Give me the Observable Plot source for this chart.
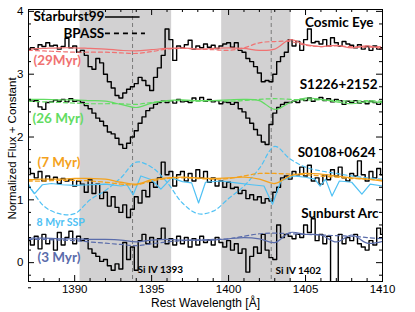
<!DOCTYPE html>
<html><head><meta charset="utf-8">
<script src="https://cdn.jsdelivr.net/npm/d3@7"></script>
<script src="https://cdn.jsdelivr.net/npm/@observablehq/plot@0.6"></script>
<style>body{margin:0;background:#fff} svg{display:block}</style>
</head><body><div id="chart"></div>
<script>
// ---- data ----
// observed spectra, sampled every 0.25 Å from 1387 to 1410 Å
const cosmicEye = [
 3.38,3.42,3.40,3.47, 3.44,3.50,3.45,3.46, 3.40,3.44,3.57,3.42, 3.45,3.35,3.38,3.30,
 3.12,3.08,3.25,3.18, 3.00,2.88,2.78,2.66, 2.62,2.70,2.76,2.80, 2.85,2.95,2.90,2.82,
 2.74,2.95,3.10,3.30, 3.72,3.55,3.22,3.45, 3.42,3.47,3.54,3.40, 3.45,3.42,3.48,3.43,
 3.46,3.41,3.45,3.48, 3.50,3.43,3.50,3.38, 3.35,3.25,3.20,3.12, 3.02,2.88,2.90,2.88,
 3.00,3.20,3.28,3.35, 3.55,3.45,3.52,3.38, 3.55,3.72,3.50,3.52, 3.48,3.55,3.45,3.58,
 3.50,3.45,3.52,3.48, 3.46,3.42,3.47,3.40, 3.44,3.38,3.45,3.40, 3.42];
const s1226 = [
 2.59,2.57,2.58,2.48, 2.44,2.55,2.56,2.59, 2.57,2.60,2.56,2.61, 2.57,2.58,2.55,2.50,
 2.45,2.38,2.30,2.25, 2.18,2.08,2.05,1.98, 1.88,1.82,1.90,2.00, 2.10,2.22,2.32,2.42,
 2.46,2.52,2.55,2.57, 2.55,2.58,2.54,2.60, 2.56,2.57,2.55,2.62, 2.58,2.63,2.57,2.60,
 2.56,2.58,2.53,2.56, 2.55,2.52,2.55,2.45, 2.40,2.30,2.22,2.12, 2.03,1.92,1.88,2.20,
 2.38,2.47,2.52,2.55, 2.55,2.57,2.55,2.60, 2.58,2.62,2.57,2.60, 2.63,2.58,2.61,2.56,
 2.60,2.58,2.52,2.57, 2.55,2.58,2.54,2.56, 2.53,2.57,2.55,2.52, 2.56];
const s0108 = [
 1.50,1.42,1.35,1.45, 1.30,1.38,1.32,1.36, 1.26,1.34,1.30,1.33, 1.22,1.30,1.25,1.12,
 1.32,1.10,1.25,1.02, 1.12,0.90,1.05,0.88, 0.80,0.92,0.72,0.85, 1.05,0.95,1.15,1.05,
 1.28,1.20,1.35,1.60, 1.40,1.45,1.22,1.40, 1.45,1.30,1.42,1.30, 1.48,1.35,1.45,1.28,
 1.35,1.22,1.30,1.20, 1.28,1.18,1.20,1.10, 1.15,1.02,1.08,1.00, 1.05,0.95,1.02,0.98,
 1.12,1.20,1.35,1.38, 1.33,1.45,1.40,1.52, 1.38,1.55,1.30,1.35, 1.25,1.40,1.32,1.48,
 1.38,1.52,1.35,1.30, 1.42,1.38,1.62,1.40, 1.30,1.45,1.35,1.50, 1.40];
const sunburst = [
 0.35,0.28,0.42,0.22, 0.45,0.30,0.38,0.20, 0.48,0.28,0.40,0.50, 0.30,0.42,0.35,0.38,
 0.22,0.15,0.10,0.02, 0.05,-0.05,-0.12,-0.02, -0.10,0.32,0.05,0.25, -0.12,0.35,0.45,0.30,
 0.40,0.25,0.38,0.55, 0.30,0.38,0.28,0.42, 0.30,0.40,0.25,0.38, 0.28,0.42,0.32,0.36,
 0.28,0.40,0.32,0.25, 0.35,0.20,0.30,0.15, 0.22,-0.15,0.10,0.25, 0.15,0.45,0.20,0.08,
 0.05,0.60,0.40,0.45, 0.42,0.38,0.45,0.40, 0.60,0.48,0.70,0.35, 0.45,0.30,0.42,-1.0,
 -1.0,0.45,0.30,0.40, 0.35,0.45,0.30,0.25, 0.20,0.35,0.28,0.55, 0.45];

// model spectra, sampled every 1 Å from 1387 to 1410 Å
const ceSB99   = [3.40,3.41,3.42,3.42,3.41,3.40,3.38,3.37,3.39,3.41,3.42,3.40,3.41,3.42,3.41,3.38,3.40,3.55,3.47,3.44,3.46,3.42,3.45,3.40];
const ceBPASS  = [3.38,3.37,3.36,3.35,3.35,3.35,3.34,3.33,3.36,3.40,3.41,3.40,3.39,3.38,3.42,3.50,3.52,3.52,3.46,3.44,3.45,3.44,3.43,3.44];
const s12SB99  = [2.60,2.60,2.59,2.59,2.58,2.57,2.52,2.47,2.54,2.58,2.59,2.58,2.58,2.59,2.60,2.58,2.44,2.55,2.62,2.60,2.56,2.53,2.56,2.55];
const s12BPASS = [2.57,2.56,2.55,2.54,2.53,2.53,2.53,2.52,2.55,2.57,2.58,2.57,2.58,2.57,2.58,2.60,2.61,2.60,2.59,2.59,2.58,2.57,2.58,2.57];
const s01SB99  = [1.32,1.33,1.33,1.34,1.34,1.33,1.28,1.25,1.32,1.35,1.36,1.35,1.34,1.35,1.36,1.33,1.26,1.38,1.42,1.41,1.38,1.35,1.33,1.30];
const s01BPASS = [1.30,1.30,1.31,1.31,1.30,1.28,1.25,1.24,1.30,1.34,1.35,1.34,1.33,1.34,1.38,1.42,1.42,1.41,1.40,1.38,1.36,1.34,1.33,1.31];
const sspBPASS = [1.25,0.90,0.78,0.78,1.00,1.15,1.35,1.60,1.52,1.28,0.95,0.78,0.82,1.02,1.22,1.50,1.85,1.65,1.52,1.46,1.42,1.38,1.35,1.33];
const sbSB99   = [0.39,0.39,0.38,0.38,0.37,0.37,0.36,0.33,0.36,0.37,0.36,0.36,0.36,0.38,0.40,0.38,0.32,0.48,0.45,0.44,0.33,0.44,0.31,0.34];
const sbBPASS  = [0.37,0.37,0.36,0.35,0.33,0.31,0.29,0.27,0.30,0.33,0.35,0.36,0.37,0.38,0.42,0.46,0.47,0.46,0.45,0.44,0.43,0.42,0.40,0.38];

// 8 Myr SSP Starburst99 model (irregular sampling)
const sspWave  = [1387.0,1387.4,1387.9,1388.5,1389.2,1390.0,1391.0,1392.0,1393.0,1393.4,1393.8,1394.3,1395.0,1395.6,1396.3,1397.0,1397.6,1398.05,1398.5,1399.5,1400.5,1401.5,1402.3,1402.85,1403.4,1404.2,1405.0,1405.6,1405.95,1406.3,1406.72,1407.2,1408.0,1408.66,1409.2,1410.0];
const sspSB99  = [1.22,1.10,1.24,1.26,1.24,1.23,1.24,1.25,1.22,1.24,1.08,1.38,1.32,1.17,1.35,1.29,1.27,0.95,1.28,1.30,1.27,1.24,1.22,0.93,1.30,1.38,1.36,1.33,1.22,1.33,1.06,1.30,1.28,1.09,1.25,1.22];

const shadedRegions = [[1390.35, 1396.3], [1399.55, 1404.05]];
const siIVLines = [1393.76, 1402.77];
const xMajor = [1390, 1395, 1400, 1405, 1410];
const yMajor = [0, 1, 2, 3, 4];

// ---- build tables ----
const waveGrid = d3.range(93).map(i => 1387 + i * 0.25);
const modelWave = d3.range(1387, 1411);
const spectra = [["Cosmic Eye", cosmicEye], ["S1226", s1226], ["S0108", s0108], ["Sunburst", sunburst]]
  .flatMap(([id, arr]) => arr.map((f, i) => ({id, w: waveGrid[i], f})));
const mk = (arr) => arr.map((f, i) => ({w: modelWave[i], f}));
const ssp = sspWave.map((w, i) => ({w, f: sspSB99[i]}));

const C = {red: "#f07272", green: "#62dc62", orange: "#f4a21c", cyan: "#4fc1f4", blue: "#5a6cab"};
const xMinor = d3.range(1387, 1411).filter(d => !xMajor.includes(d));
const yMinor = d3.range(-2, 21).map(d => d / 5).filter(d => !Number.isInteger(d));

const FH = 312 - 9 - 31, FW = 415 - 28 - 33;
const ann = "Lato, 'Open Sans', sans-serif";
const txt = (s, x, y, opts) => Plot.text([s], {x: () => x, y: () => y, text: d => d, fontFamily: ann, fontWeight: "bold", fontSize: 13.5, ...opts});

const plot = Plot.plot({
  width: 415, height: 312,
  marginLeft: 28, marginRight: 33, marginTop: 9, marginBottom: 31,
  x: {domain: [1387, 1410]},
  y: {domain: [-0.3, 4.03]},
  style: {fontFamily: "'Liberation Sans', Arial, sans-serif", fontSize: "11px", color: "black", background: "white"},
  marks: [
    Plot.rect(shadedRegions, {x1: d => d[0], x2: d => d[1], fill: "#d2d1d2"}),
    Plot.ruleX(siIVLines, {x: d => d, stroke: "#707070", strokeWidth: 0.9, strokeDasharray: "4,3"}),
    Plot.line(spectra, {x: "w", y: "f", z: "id", curve: "step", stroke: "black", strokeWidth: 1.4, clip: true}),
    Plot.line(mk(ceBPASS), {x: "w", y: "f", curve: "catmull-rom", stroke: C.red, strokeWidth: 1.2, strokeDasharray: "4,3"}),
    Plot.line(mk(ceSB99), {x: "w", y: "f", curve: "catmull-rom", stroke: C.red, strokeWidth: 1.2}),
    Plot.line(mk(s12BPASS), {x: "w", y: "f", curve: "catmull-rom", stroke: C.green, strokeWidth: 1.2, strokeDasharray: "4,3"}),
    Plot.line(mk(s12SB99), {x: "w", y: "f", curve: "catmull-rom", stroke: C.green, strokeWidth: 1.2}),
    Plot.line(mk(sspBPASS), {x: "w", y: "f", curve: "catmull-rom", stroke: C.cyan, strokeWidth: 1.2, strokeDasharray: "4,3"}),
    Plot.line(ssp, {x: "w", y: "f", stroke: C.cyan, strokeWidth: 1.2}),
    Plot.line(mk(s01BPASS), {x: "w", y: "f", curve: "catmull-rom", stroke: C.orange, strokeWidth: 1.3, strokeDasharray: "4,3"}),
    Plot.line(mk(s01SB99), {x: "w", y: "f", curve: "catmull-rom", stroke: C.orange, strokeWidth: 1.3}),
    Plot.line(mk(sbBPASS), {x: "w", y: "f", curve: "catmull-rom", stroke: C.blue, strokeWidth: 1.2, strokeDasharray: "4,3"}),
    Plot.line(mk(sbSB99), {x: "w", y: "f", curve: "catmull-rom", stroke: C.blue, strokeWidth: 1.2}),
    Plot.frame({stroke: "black", strokeWidth: 1}),
    // inward ticks
    Plot.ruleX(xMajor, {x: d => d, insetTop: FH - 6, stroke: "black"}),
    Plot.ruleX(xMajor, {x: d => d, insetBottom: FH - 6, stroke: "black"}),
    Plot.ruleX(xMinor, {x: d => d, insetTop: FH - 3, stroke: "black"}),
    Plot.ruleX(xMinor, {x: d => d, insetBottom: FH - 3, stroke: "black"}),
    Plot.ruleY(yMajor, {y: d => d, insetRight: FW - 6, stroke: "black"}),
    Plot.ruleY(yMajor, {y: d => d, insetLeft: FW - 6, stroke: "black"}),
    Plot.ruleY(yMinor, {y: d => d, insetRight: FW - 3, stroke: "black"}),
    Plot.ruleY(yMinor, {y: d => d, insetLeft: FW - 3, stroke: "black"}),
    Plot.axisX({ticks: xMajor, tickSize: 0, tickPadding: 3, tickFormat: d => String(d), label: null, fontSize: 11.5}),
    Plot.axisY({ticks: yMajor, tickSize: 0, tickPadding: 5, tickFormat: d => String(d), label: null, fontSize: 11.5}),
    Plot.text(["Rest Wavelength [Å]"], {frameAnchor: "bottom", lineAnchor: "middle", dy: 22, fontSize: 12}),
    Plot.text(["Normalized Flux + Constant"], {frameAnchor: "left", textAnchor: "middle", lineAnchor: "middle", rotate: -90, dx: -16, dy: 3, fontSize: 11.5}),
    // legend
    txt("Starburst99", 1387.32, 3.91, {textAnchor: "start"}),
    Plot.ruleY([3.91], {y: d => d, x1: 1392.0, x2: 1394.25, stroke: "black", strokeWidth: 1.6}),
    txt("BPASS", 1389.27, 3.65, {textAnchor: "start"}),
    Plot.ruleY([3.65], {y: d => d, x1: 1392.0, x2: 1394.6, stroke: "black", strokeWidth: 1.6, strokeDasharray: "5,4"}),
    // object names
    txt("Cosmic Eye", 1409.42, 3.82, {textAnchor: "end"}),
    txt("S1226+2152", 1409.68, 2.84, {textAnchor: "end"}),
    txt("S0108+0624", 1409.55, 1.75, {textAnchor: "end"}),
    txt("Sunburst Arc", 1409.74, 0.78, {textAnchor: "end"}),
    // ages
    txt("(29Myr)", 1387.32, 3.22, {textAnchor: "start", fill: C.red}),
    txt("(26 Myr)", 1387.26, 2.30, {textAnchor: "start", fill: C.green}),
    txt("(7 Myr)", 1387.58, 1.59, {textAnchor: "start", fill: C.orange}),
    txt("8 Myr SSP", 1387.52, 0.64, {textAnchor: "start", fill: C.cyan, fontSize: 10.5}),
    txt("(3 Myr)", 1387.58, 0.08, {textAnchor: "start", fill: C.blue}),
    txt("Si IV 1393", 1394.08, -0.11, {textAnchor: "start", fontSize: 10}),
    txt("Si IV 1402", 1403.05, -0.125, {textAnchor: "start", fontSize: 10})
  ]
});
document.getElementById("chart").appendChild(plot);
</script>
</body></html>
